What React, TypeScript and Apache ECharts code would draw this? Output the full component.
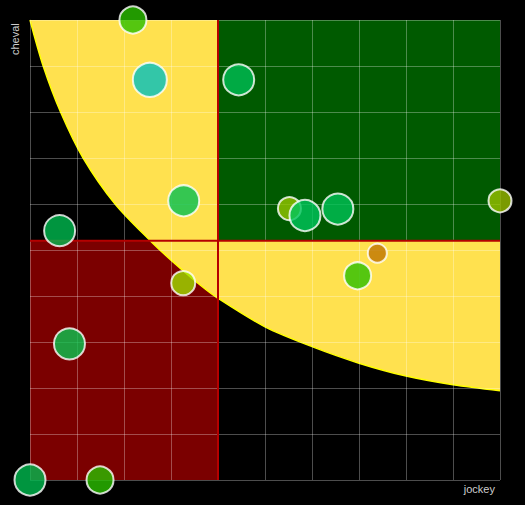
import React, { useEffect, useRef } from "react";
import * as echarts from "echarts";

// Axis names
const xAxisName = "jockey";
const yAxisName = "cheval";

// Thresholds
const jockeyThreshold = 4;
const chevalThreshold = 5.2;
const axisMin = 0;
const axisMax = 10;

// Boundary curve (jockey, cheval)
const curveX = [0, 0.28, 0.65, 1.13, 1.81, 2.58, 3.0, 3.62, 4, 5, 6, 7, 8, 9, 10];
const curveY = [10, 9, 8, 7, 6, 5.18, 4.78, 4.24, 3.95, 3.33, 2.9, 2.54, 2.26, 2.07, 1.94];

// Points
const pointX = [2.19, 2.55, 4.44, 3.27, 0.63, 3.26, 5.52, 5.85, 6.55, 10, 7.39, 6.97, 0.84, 0, 1.49];
const pointY = [10, 8.7, 8.7, 6.07, 5.42, 4.28, 5.9, 5.75, 5.89, 6.07, 4.93, 4.44, 2.96, 0, 0];
const pointSize = [27, 34, 31, 31, 31, 24, 23, 31, 31, 23, 19, 27, 31, 31, 27];
const pointColor = [
  "#2abf00", "#00bfbe", "#00be55", "#03bf51", "#00ba4f", "#a0df00", "#95c500",
  "#00c55c", "#00c256", "#98c000", "#bf7400", "#2abf00", "#09c550", "#00ba4f", "#2abf00",
];

export default function App() {
  const ref = useRef<HTMLDivElement>(null);
  useEffect(() => {
    if (!ref.current) return;
    const chart = echarts.init(ref.current, null, { renderer: "svg" });
    const curve = curveX.map((x, i) => [x, curveY[i]]);
    const points = pointX.map((x, i) => ({
      value: [x, pointY[i]],
      symbolSize: pointSize[i],
      itemStyle: { color: pointColor[i] },
    }));
    const splitStyle = { show: true, lineStyle: { color: "rgba(255,255,255,0.3)", width: 1 } };
    chart.setOption({
      animation: false,
      backgroundColor: "#000",
      grid: { left: 30, right: 25, top: 20, bottom: 25 },
      xAxis: {
        type: "value", min: axisMin, max: axisMax, interval: 1, z: 4,
        axisLine: { show: false }, axisTick: { show: false }, axisLabel: { show: false },
        splitLine: splitStyle,
      },
      yAxis: {
        type: "value", min: axisMin, max: axisMax, interval: 1, z: 4,
        axisLine: { show: false }, axisTick: { show: false }, axisLabel: { show: false },
        splitLine: splitStyle,
      },
      graphic: [
        {
          type: "text", x: 15, y: 55, rotation: Math.PI / 2,
          style: { text: yAxisName, fill: "#cccccc", font: "11px 'Liberation Sans', Arial, sans-serif", align: "left", verticalAlign: "middle" },
        },
        {
          type: "text", x: 495, y: 489,
          style: { text: xAxisName, fill: "#cccccc", font: "11px 'Liberation Sans', Arial, sans-serif", align: "right", verticalAlign: "middle" },
        },
      ],
      series: [
        {
          type: "line", z: 1, symbol: "none", silent: true,
          data: [[axisMin, chevalThreshold], [jockeyThreshold, chevalThreshold]],
          lineStyle: { width: 0 },
          areaStyle: { color: "#7b0000", opacity: 1, origin: "start" },
        },
        {
          type: "line", z: 2, symbol: "none", silent: true, smooth: 0.3,
          data: curve,
          lineStyle: { color: "#ffff00", width: 1.5 },
          areaStyle: { color: "#ffe14f", opacity: 1, origin: "end" },
        },
        {
          type: "line", z: 3, symbol: "none", silent: true,
          data: [[jockeyThreshold, chevalThreshold], [axisMax, chevalThreshold]],
          lineStyle: { width: 0 },
          areaStyle: { color: "#005a00", opacity: 1, origin: "end" },
        },
        {
          type: "line", z: 5, symbol: "none", silent: true,
          data: [[jockeyThreshold, axisMin], [jockeyThreshold, axisMax]],
          lineStyle: { color: "#b50000", width: 2 },
        },
        {
          type: "line", z: 5, symbol: "none", silent: true,
          data: [[axisMin, chevalThreshold], [axisMax, chevalThreshold]],
          lineStyle: { color: "#b50000", width: 2 },
        },
        {
          type: "scatter", z: 6, clip: false, symbol: "circle",
          data: points,
          itemStyle: { opacity: 0.8, borderColor: "#ffffff", borderWidth: 2 },
        },
      ],
    });
    return () => chart.dispose();
  }, []);
  return (
    <div
      ref={ref}
      style={{ position: "fixed", left: 0, top: 0, width: 525, height: 505, background: "#000" }}
    />
  );
}
